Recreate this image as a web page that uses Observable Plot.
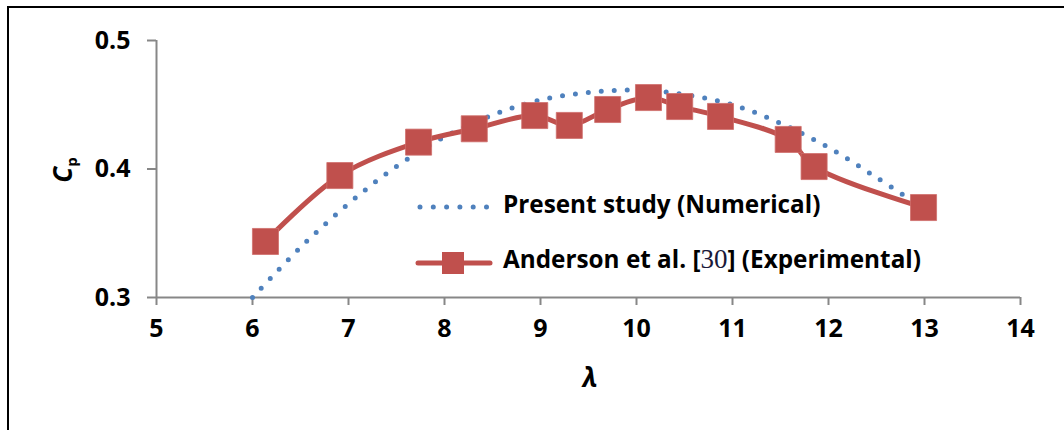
<!DOCTYPE html>
<html>
<head>
<meta charset="utf-8">
<script src="https://cdn.jsdelivr.net/npm/d3@7"></script>
<script src="https://cdn.jsdelivr.net/npm/@observablehq/plot@0.6"></script>
<style>
  html, body { margin: 0; padding: 0; background: #fff; }
  #wrap { position: relative; width: 1064px; height: 430px; overflow: hidden; }
  #frame { position: absolute; left: 7px; top: 6px; right: 0; bottom: 0;
           border-left: 2px solid #000; border-top: 2px solid #000; pointer-events: none; }
  #wrap svg { position: absolute; left: 0; top: 0; }
</style>
</head>
<body>
<div id="wrap"><div id="frame"></div></div>
<script>
// Present study (Numerical)
const lambdaNum = [6.0, 6.5, 7.0, 7.5, 8.0, 8.5, 9.0, 9.5, 10.0, 10.5, 11.0, 11.5, 12.0, 12.5, 13.0];
const cpNum     = [0.300, 0.339, 0.373, 0.402, 0.425, 0.442, 0.4537, 0.4595, 0.4615, 0.458, 0.450, 0.4356, 0.4167, 0.3934, 0.369];
// Anderson et al. [30] (Experimental)
const lambdaExp = [6.135, 6.91, 7.73, 8.31, 8.94, 9.30, 9.70, 10.125, 10.45, 10.875, 11.58, 11.85, 12.99];
const cpExp     = [0.3436, 0.3949, 0.4209, 0.4313, 0.4416, 0.4339, 0.4463, 0.4556, 0.4486, 0.4409, 0.4230, 0.4019, 0.370];
const xTicks = [5, 6, 7, 8, 9, 10, 11, 12, 13, 14];
const yTicks = [0.3, 0.4, 0.5];
const seriesNames = ["Present study (Numerical)", "Anderson et al. [30] (Experimental)"];

const numData = lambdaNum.map((x, i) => ({x, y: cpNum[i]}));
const expData = lambdaExp.map((x, i) => ({x, y: cpExp[i]}));

const BLUE = "#4F81BD", RED = "#C0504D", AXIS = "#878787";
const FONT = "'Open Sans', Lato, sans-serif";

const chart = Plot.plot({
  width: 1064, height: 430,
  marginLeft: 156, marginRight: 44, marginTop: 40, marginBottom: 133,
  x: {domain: [5, 14]},
  y: {domain: [0.3, 0.5]},
  style: {fontFamily: FONT, fontWeight: 700, fontSize: "25px", color: "#000", background: "transparent", overflow: "visible"},
  marks: [
    Plot.ruleY([0.3], {stroke: AXIS, strokeWidth: 2}),
    Plot.ruleX([5], {stroke: AXIS, strokeWidth: 2}),
    Plot.axisX(xTicks, {tickSize: 8, tickPadding: 14, stroke: AXIS, strokeWidth: 2, strokeOpacity: 1, label: null, fill: "#000"}),
    Plot.axisY(yTicks, {tickSize: 9, tickPadding: 17, stroke: AXIS, strokeWidth: 2, strokeOpacity: 1, label: null, fill: "#000", tickFormat: d3.format(".1f")}),
    Plot.line(numData, {x: "x", y: "y", curve: "catmull-rom", stroke: BLUE, strokeWidth: 5, strokeDasharray: "0 13", strokeLinecap: "round"}),
    Plot.line(expData, {x: "x", y: "y", curve: "catmull-rom", stroke: RED, strokeWidth: 5}),
    Plot.dot(expData, {x: "x", y: "y", symbol: "square", r: 14.7, fill: RED, stroke: "#cf6f6c", strokeWidth: 0.8})
  ]
});
document.getElementById("wrap").prepend(chart);

// Axis titles and legend (decorations)
const svg = d3.select(chart);
const g = svg.append("g").attr("font-family", FONT).attr("font-weight", 700).attr("fill", "#000");

// y title: Cp (rotated)
const yt = g.append("text")
  .attr("transform", "translate(72,170) rotate(-90)")
  .attr("text-anchor", "middle")
  .attr("font-size", 26);
yt.append("tspan").attr("font-style", "italic").text("C");
yt.append("tspan").attr("font-size", 15).attr("dy", 5).text("p");

// x title: lambda
g.append("text").attr("x", 590).attr("y", 387).attr("text-anchor", "middle")
  .attr("font-size", 26).attr("font-style", "italic").text("λ");

// legend
g.append("line").attr("x1", 420).attr("x2", 487).attr("y1", 207).attr("y2", 207)
  .attr("stroke", BLUE).attr("stroke-width", 5).attr("stroke-linecap", "round").attr("stroke-dasharray", "0 13.3");
g.append("text").attr("x", 503).attr("y", 213).attr("text-anchor", "start").attr("font-size", 24.3).text(seriesNames[0]);

g.append("line").attr("x1", 418).attr("x2", 490).attr("y1", 263).attr("y2", 263)
  .attr("stroke", RED).attr("stroke-width", 5).attr("stroke-linecap", "round");
g.append("rect").attr("x", 442).attr("y", 252).attr("width", 22).attr("height", 22).attr("fill", RED);
const lt = g.append("text").attr("x", 503).attr("y", 268).attr("text-anchor", "start").attr("font-size", 24.3);
lt.append("tspan").text("Anderson et al. [");
lt.append("tspan").attr("font-family", "'Liberation Serif', serif").attr("font-weight", 400).attr("font-size", 27).attr("fill", "#1a1a3a").text("30");
lt.append("tspan").text("] (Experimental)");
</script>
</body>
</html>
